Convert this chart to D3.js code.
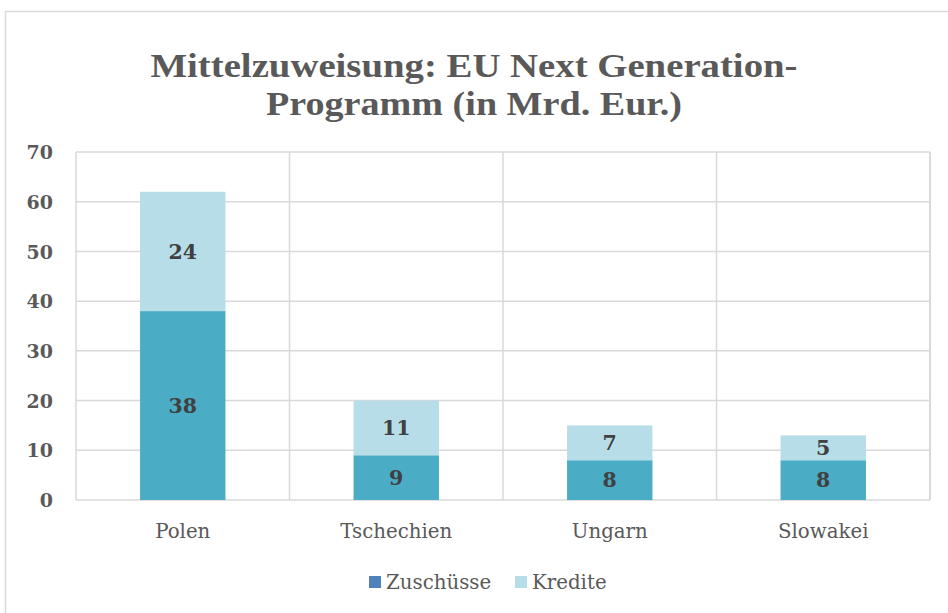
<!DOCTYPE html>
<html><head><meta charset="utf-8">
<script src="https://cdn.jsdelivr.net/npm/d3@7"></script>
<style>body{margin:0;background:#fff;}svg{display:block;}</style>
</head><body>
<script>
const categories = ["Polen", "Tschechien", "Ungarn", "Slowakei"];
const zuschuesse = [38, 9, 8, 8];
const kredite = [24, 11, 7, 5];
const yTicks = [0, 10, 20, 30, 40, 50, 60, 70];
const seriesNames = ["Zuschüsse", "Kredite"];
const titleLines = ["Mittelzuweisung: EU Next Generation-", "Programm (in Mrd. Eur.)"];

const W = 948, H = 613;
const svg = d3.select("body").append("svg").attr("width", W).attr("height", H);
const serif = "'DejaVu Serif', 'Liberation Serif', serif";
const titleFont = "'Liberation Serif', serif";
const textCol = "#595959";
const gridCol = "#d9d9d9";

// outer frame
svg.append("path").attr("d", `M5.5,${H} V11.5 H${W}`).attr("fill", "none").attr("stroke", gridCol).attr("stroke-width", 1.5);

const m = {left: 76, right: 930, top: 152, bottom: 500};
const x = d3.scaleBand().domain(categories).range([m.left, m.right]).paddingInner(0).paddingOuter(0);
const y = d3.scaleLinear().domain([0, 70]).range([m.bottom, m.top]);

// horizontal grid
svg.append("g").selectAll("line").data(yTicks).join("line")
  .attr("x1", m.left).attr("x2", m.right)
  .attr("y1", d => y(d)).attr("y2", d => y(d))
  .attr("stroke", gridCol).attr("stroke-width", 1.5);
// vertical grid
const vx = categories.map(c => x(c)).concat([m.right]);
svg.append("g").selectAll("line").data(vx).join("line")
  .attr("x1", d => d).attr("x2", d => d)
  .attr("y1", m.top).attr("y2", m.bottom)
  .attr("stroke", gridCol).attr("stroke-width", (d,i) => i === vx.length-1 ? 2 : 1.5);

// y axis labels
const yAxis = d3.axisLeft(y).tickValues(yTicks).tickSize(0).tickPadding(0);
const ga = svg.append("g").attr("transform", `translate(53,0)`).call(yAxis);
ga.select(".domain").remove();
ga.selectAll("text").attr("font-family", serif).attr("font-weight", "bold")
  .attr("font-size", 19).attr("fill", textCol).attr("dy", "0.35em");

// x axis labels
const xAxis = d3.axisBottom(x).tickSize(0).tickPadding(0);
const gx = svg.append("g").attr("transform", `translate(0,531)`).call(xAxis);
gx.select(".domain").remove();
gx.selectAll("text").attr("font-family", serif).attr("font-size", 19.8).attr("fill", textCol).attr("dy", "0.35em");

// stacked bars
const colBars = ["#4bacc6", "#b7dde8"];
const barW = x.bandwidth() * 0.40;
const data = categories.map((c, i) => ({c, vals: [zuschuesse[i], kredite[i]]}));
data.forEach(d => {
  let base = 0;
  d.vals.forEach((v, j) => {
    const cx = x(d.c) + x.bandwidth() / 2;
    svg.append("rect").attr("x", cx - barW / 2).attr("width", barW)
      .attr("y", y(base + v)).attr("height", y(base) - y(base + v))
      .attr("fill", colBars[j]);
    svg.append("text").attr("x", cx).attr("y", y(base + v / 2)).attr("dy", "0.35em")
      .attr("text-anchor", "middle").attr("font-family", serif).attr("font-weight", "bold")
      .attr("font-size", 20.5).attr("fill", "#404040").text(v);
    base += v;
  });
});

// title
const tl = [{t: titleLines[0], yb: 77, len: 647}, {t: titleLines[1], yb: 115, len: 416}];
tl.forEach(l => {
  svg.append("text").attr("x", 474).attr("y", l.yb).attr("text-anchor", "middle")
    .attr("font-family", titleFont).attr("font-weight", "bold").attr("font-size", 33)
    .attr("fill", textCol).attr("textLength", l.len).attr("lengthAdjust", "spacingAndGlyphs").text(l.t);
});

// legend
const legCols = ["#4f81bd", "#b7dde8"];
const legX = [369, 515];
seriesNames.forEach((s, i) => {
  svg.append("rect").attr("x", legX[i]).attr("y", 576).attr("width", 12).attr("height", 12).attr("fill", legCols[i]);
  svg.append("text").attr("x", legX[i] + 17).attr("y", 582).attr("dy", "0.35em")
    .attr("font-family", serif).attr("font-size", 19.8).attr("fill", textCol).text(s);
});
</script>
</body></html>
